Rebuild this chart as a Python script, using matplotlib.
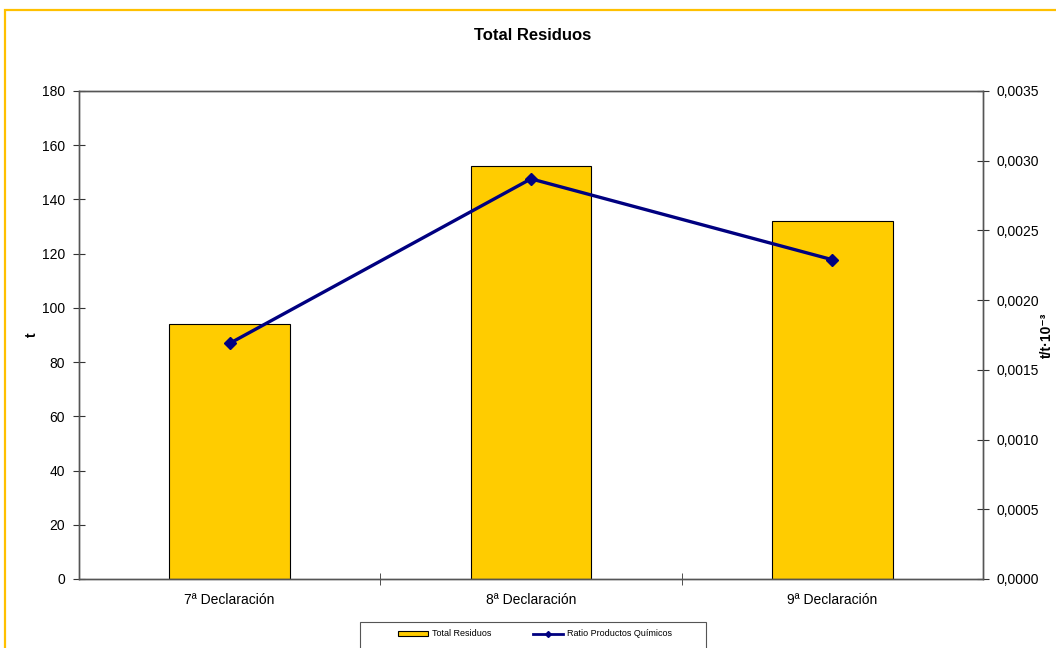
import matplotlib
matplotlib.use("Agg")
import matplotlib.pyplot as plt
from matplotlib.patches import Rectangle
from matplotlib.lines import Line2D
from matplotlib.ticker import FuncFormatter, FixedLocator

plt.rcParams['font.family'] = ['Liberation Sans', 'DejaVu Sans']

categories = ["7ª Declaración", "8ª Declaración", "9ª Declaración"]
total_residuos = [94, 152.3, 132]
ratio_quimicos = [0.00169, 0.00287, 0.00229]

W, H = 1056, 648
fig = plt.figure(figsize=(W / 100, H / 100), dpi=100)

# outer chart frame (right and bottom edges run past the canvas)
fig.patches.append(Rectangle((5 / W, -0.5), 2.0, 1.5 - 10 / H, transform=fig.transFigure,
                             fill=False, edgecolor='#FFC000', linewidth=1.6, zorder=0))

ax = fig.add_axes([79 / W, 1 - 579 / H, (983 - 79) / W, (579 - 91) / H])
x = list(range(len(categories)))
ax.bar(x, total_residuos, width=0.4, color='#FFCC00', edgecolor='black', linewidth=0.8, zorder=2)
ax.set_xlim(-0.5, 2.5)
ax.set_ylim(0, 180)
ax.set_yticks(range(0, 181, 20))
ax.set_xticks(x)
ax.set_xticklabels(categories, fontsize=10)
ax.xaxis.set_minor_locator(FixedLocator([0.5, 1.5]))
ax.tick_params(axis='x', which='major', length=0, pad=10)
ax.tick_params(axis='x', which='minor', length=8, direction='inout', color='#333333')
ax.tick_params(axis='y', length=8, direction='inout', labelsize=10, pad=6, color='#333333')
for s in ax.spines.values():
    s.set_color('#555555')
    s.set_linewidth(1.0)

ax2 = ax.twinx()
ax2.plot(x, ratio_quimicos, color='#000080', linewidth=2.4, marker='D', markersize=6, zorder=3)
ax2.set_ylim(0, 0.0035)
ax2.set_yticks([i * 0.0005 for i in range(8)])
ax2.yaxis.set_major_formatter(FuncFormatter(lambda v, p: f"{v:.4f}".replace('.', ',')))
ax2.tick_params(axis='y', length=8, direction='inout', labelsize=10, pad=6, color='#333333')
for s in ax2.spines.values():
    s.set_color('#555555')
    s.set_linewidth(1.0)

# axis titles
fig.text(32 / W, 1 - 335 / H, "t", rotation=90, ha='center', va='center',
         fontsize=10, fontweight='bold')
fig.text(1047 / W, 1 - 335 / H, "t/t·10⁻³", rotation=90, ha='center',
         va='center', fontsize=10, fontweight='bold',
         family=['Liberation Sans', 'DejaVu Sans'])

fig.text(533 / W, 1 - 36 / H, "Total Residuos", ha='center', va='center',
         fontsize=12, fontweight='bold')

# legend box
fig.patches.append(Rectangle((360 / W, 1 - 660 / H), 346 / W, 38 / H, transform=fig.transFigure,
                             facecolor='white', edgecolor='#555555', linewidth=0.8, zorder=1))
handles = [
    Rectangle((0, 0), 1, 1, facecolor='#FFCC00', edgecolor='black', linewidth=0.8),
    Line2D([], [], color='#000080', linewidth=2, marker='D', markersize=3),
]
leg = fig.legend(handles, ["Total Residuos", "Ratio Productos Químicos"],
                 loc='center', bbox_to_anchor=(535 / W, 1 - 634 / H),
                 ncol=2, fontsize=6.5, frameon=False, borderpad=0,
                 handlelength=3.3, handleheight=0.55, handletextpad=0.45,
                 columnspacing=4.6)
leg.set_zorder(2)

fig.savefig("out.png", dpi=100)
